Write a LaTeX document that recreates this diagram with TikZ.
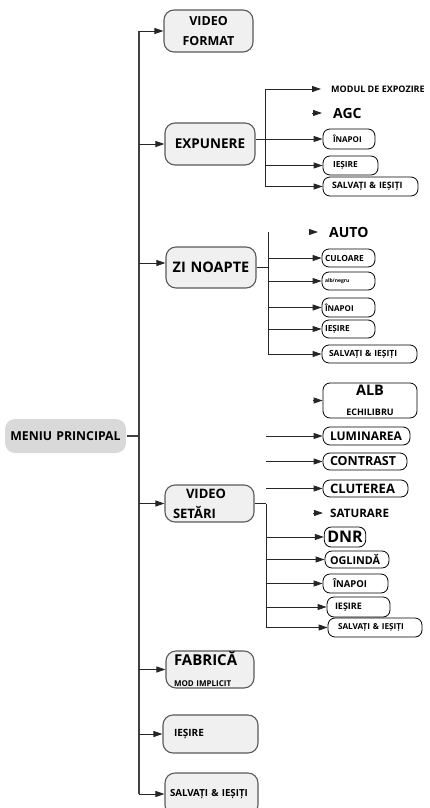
\documentclass[tikz,border=0pt]{standalone}
\usepackage{fontspec}
\setmainfont{Open Sans}
\usetikzlibrary{arrows.meta}
\newcommand\fsz[1]{\fontsize{#1}{#1}\selectfont}
\begin{document}
\begin{tikzpicture}[x=1pt,y=-1pt,
  mb/.style={draw=black!65, fill=black!6, rounded corners=10pt, line width=1.1pt, inner sep=0pt},
  sb/.style={draw=black, fill=white, rounded corners=7pt, line width=0.8pt, inner ysep=0pt, align=left},
  tx/.style={inner ysep=0pt, anchor=west},
  ln/.style={line width=0.9pt, draw=black!85},
  ar/.style={ln, -{Triangle[length=9pt,width=6pt]}},
  tr/.style={line width=1.2pt, draw=black!75}]
\useasboundingbox (0,0) rectangle (430,808);
\coordinate (t) at (139,0);
\coordinate (s1) at (265,0);
\coordinate (s2) at (268,0);
\coordinate (s3) at (266,0);
% main boxes
\node[mb, draw=none, fill=black!15, minimum height=34, text width=121, align=center, font=\bfseries\fsz{12.3}] (menu) at (65.5,436) {MENIU PRINCIPAL};
\node[mb, minimum height=42, text width=89, align=center, font=\bfseries\fontsize{12.5}{20}\selectfont] (vf) at (208.5,31) {VIDEO\\FORMAT};
\node[mb, minimum height=42, text width=90, align=center, font=\bfseries\fsz{13.5}] (exp) at (210,144) {EXPUNERE};
\node[mb, minimum height=41, text width=90, align=center, font=\bfseries\fsz{14.5}] (zn) at (211,267.5) {ZI NOAPTE};
\node[mb, minimum height=37, text width=73, inner xsep=8pt, align=left, font=\bfseries\fontsize{13}{20}\selectfont] (vs) at (209.5,503.5) {\hspace*{13pt}VIDEO\\SETĂRI};
\node[mb, minimum height=37, text width=72, inner xsep=8pt, align=left, font=\bfseries\fontsize{8}{21}\selectfont] (fab) at (210,669.5) {{\fsz{15}FABRICĂ}\\MOD IMPLICIT};
\node[mb, minimum height=38, text width=73, inner xsep=11pt, align=left, font=\bfseries\fsz{10}] (ies) at (210.5,734) {IEȘIRE};
\node[mb, minimum height=42, text width=83, inner xsep=5pt, align=left, font=\bfseries\fsz{9.7}] (sal) at (211.5,794) {SALVAȚI \& IEȘIȚI};
\coordinate (znin) at ([yshift=4.5pt]zn.west);
% trunk
\draw[tr] (menu.east) -- (t |- menu.east);
\draw[tr] (t |- sal.west) -- (t |- vf.west);
\foreach \n in {vf,exp,vs,fab,ies,sal} \draw[ar] (t |- \n.west) -- (\n.west);
\draw[ar] (t |- znin) -- (znin);
% EXPUNERE
\node[tx, inner xsep=10pt, font=\bfseries\fsz{9}] (e1) at (321,89) {MODUL DE EXPOZIRE};
\node[tx, inner xsep=11pt, font=\bfseries\fsz{14}] (e2) at (322,113) {AGC};
\node[sb, minimum height=20, text width=32, inner xsep=10pt, font=\bfseries\fsz{8}] (e3) at (349,139) {ÎNAPOI};
\node[sb, minimum height=19, text width=35, inner xsep=10pt, font=\bfseries\fsz{8.3}] (e4) at (350.5,165.5) {IEȘIRE};
\node[sb, minimum height=19, text width=77, inner xsep=9pt, font=\bfseries\fsz{8.8}] (e5) at (370.5,186.5) {SALVAȚI \& IEȘIȚI};
\draw[ln] (s1 |- e1.west) -- (s1 |- e5.west);
\draw[ar] (s1 |- e1.west) -- (e1.west);
\draw[ar] ([xshift=-10pt]e2.west) -- (e2.west);
\draw[ar] (exp.east |- e3.west) -- (e3.west);
\foreach \n in {e4,e5} \draw[ar] (s1 |- \n.west) -- (\n.west);
% ZI NOAPTE
\node[tx, inner xsep=11pt, font=\bfseries\fsz{14}] (z1) at (318,232) {AUTO};
\node[sb, minimum height=18, text width=47, inner xsep=3pt, font=\bfseries\fsz{8.4}] (z2) at (348.5,258) {CULOARE};
\node[sb, minimum height=18, text width=47, inner xsep=3pt, font=\bfseries\fsz{5}] (z3) at (348.5,281) {alb/negru};
\node[sb, minimum height=19, text width=47, inner xsep=3pt, font=\bfseries\fsz{8}] (z4) at (348.5,307.5) {ÎNAPOI};
\node[sb, minimum height=18, text width=47, inner xsep=3pt, font=\bfseries\fsz{8.3}] (z5) at (348.5,329) {IEȘIRE};
\node[sb, minimum height=18, text width=81, inner xsep=7pt, font=\bfseries\fsz{8.5}] (z6) at (369.5,354) {SALVAȚI \& IEȘIȚI};
\draw[ln] (zn.east) -- (s2 |- zn.east);
\draw[ln] (s2 |- z1.west) -- (s2 |- z6.west);
\draw[ar] ([xshift=-9pt]z1.west) -- (z1.west);
\foreach \n in {z2,z3,z4,z5,z6} \draw[ar] (s2 |- \n.west) -- (\n.west);
% VIDEO SETARI
\node[sb, minimum height=35, text width=86, inner xsep=4pt, align=center, font=\bfseries\fontsize{9}{20}\selectfont] (v1) at (370,400.5) {{\fsz{14.5}ALB}\\ECHILIBRU};
\node[sb, minimum height=18, text width=73, inner xsep=7pt, font=\bfseries\fsz{12}] (v2) at (366.5,436) {LUMINAREA};
\node[sb, minimum height=17, text width=70, inner xsep=7pt, font=\bfseries\fsz{12.5}] (v3) at (365,461.5) {CONTRAST};
\node[sb, minimum height=17, text width=71, inner xsep=7pt, font=\bfseries\fsz{13}] (v4) at (365.5,488.5) {CLUTEREA};
\node[tx, inner xsep=7pt, font=\bfseries\fsz{11.6}] (v5) at (323,513) {SATURARE};
\node[sb, minimum height=20, inner xsep=3pt, font=\bfseries\fsz{16}] (v6) at (345,537) {DNR};
\node[sb, minimum height=17, text width=54, inner xsep=5pt, font=\bfseries\fsz{10.8}] (v7) at (357,559.5) {OGLINDĂ};
\node[sb, minimum height=19, text width=45, inner xsep=10pt, font=\bfseries\fsz{9.5}] (v8) at (355.5,583.5) {ÎNAPOI};
\node[sb, minimum height=20, text width=47, inner xsep=8pt, font=\bfseries\fsz{9}] (v9) at (358.5,607) {IEȘIRE};
\node[sb, minimum height=19, text width=74, inner xsep=10pt, font=\bfseries\fsz{8.2}] (v10) at (375,627.5) {SALVAȚI \& IEȘIȚI};
\draw[ln] (vs.east) -- (s3 |- vs.east);
\draw[ln] (s3 |- vs.east) -- (s3 |- v10.west);
\draw[ar] ([xshift=-10pt]v1.west) -- (v1.west);
\draw[ar] ([xshift=-10pt]v5.west) -- (v5.west);
\foreach \n in {v2,v3,v4,v6,v7,v8,v9,v10} \draw[ar] (s3 |- \n.west) -- (\n.west);
\end{tikzpicture}
\end{document}
